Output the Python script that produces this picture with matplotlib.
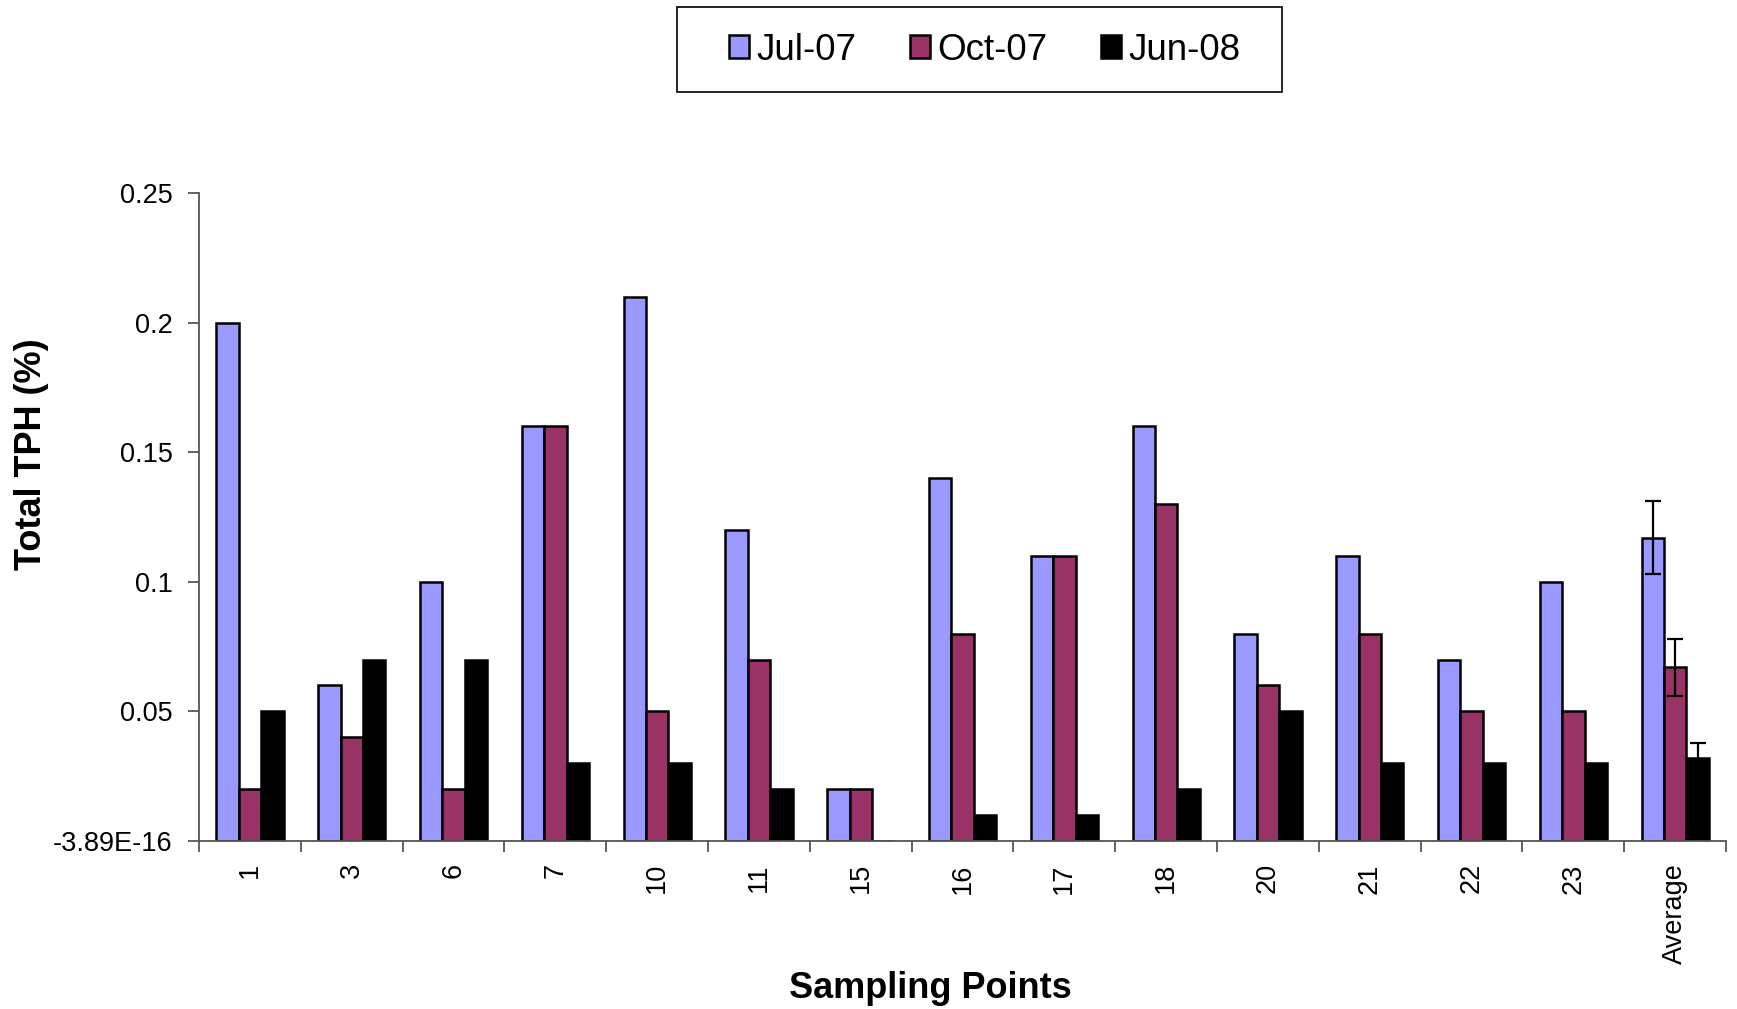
import matplotlib.pyplot as plt
import numpy as np
from matplotlib.patches import Rectangle

plt.rcParams['font.family'] = ['Liberation Sans', 'DejaVu Sans']

points = ['1', '3', '6', '7', '10', '11', '15', '16', '17', '18', '20', '21', '22', '23', 'Average']
jul07 = [0.20, 0.06, 0.10, 0.16, 0.21, 0.12, 0.02, 0.14, 0.11, 0.16, 0.08, 0.11, 0.07, 0.10, 0.117]
oct07 = [0.02, 0.04, 0.02, 0.16, 0.05, 0.07, 0.02, 0.08, 0.11, 0.13, 0.06, 0.08, 0.05, 0.05, 0.067]
jun08 = [0.05, 0.07, 0.07, 0.03, 0.03, 0.02, 0.00, 0.01, 0.01, 0.02, 0.05, 0.03, 0.03, 0.03, 0.032]
# error bars only on the Average group
avg_err = [0.014, 0.011, 0.006]

series = [('Jul-07', jul07, '#9999FF'), ('Oct-07', oct07, '#993366'), ('Jun-08', jun08, '#000000')]

fig = plt.figure(figsize=(17.37, 10.09), dpi=100)
ax = fig.add_axes([0.1146, 0.1665, 0.8791, 0.6422])

x = np.arange(len(points))
w = 0.22
handles = []
for i, (name, vals, col) in enumerate(series):
    xs = x + (i - 1) * w
    b = ax.bar(xs, vals, w, color=col, edgecolor='black', linewidth=1.8, label=name)
    handles.append(b)
    ax.errorbar(xs[-1], vals[-1], yerr=avg_err[i], color='black', elinewidth=1.6,
                capsize=5.5, capthick=1.6, fmt='none', zorder=5)

ax.set_xlim(-0.5, len(points) - 0.5)
ax.set_ylim(0, 0.25)
ax.set_yticks([0, 0.05, 0.1, 0.15, 0.2, 0.25])
ax.set_yticklabels(['-3.89E-16', '0.05', '0.1', '0.15', '0.2', '0.25'], fontsize=19.5)

ax.set_xticks(x)
ax.set_xticklabels(points, rotation=90, fontsize=19.5, va='top')
ax.set_xticks(np.arange(len(points) + 1) - 0.5, minor=True)
ax.tick_params(axis='x', which='major', length=0, pad=16)
ax.tick_params(axis='x', which='minor', length=8, width=1.3, color='#555555', direction='out')
ax.tick_params(axis='y', length=8, width=1.3, color='#555555', direction='out', pad=11)

for s in ['top', 'right']:
    ax.spines[s].set_visible(False)
for s in ['left', 'bottom']:
    ax.spines[s].set_color('#555555')
    ax.spines[s].set_linewidth(1.3)

fig.text(32 / 1737, 1 - 454 / 1009, 'Total TPH (%)', rotation=90, fontsize=26,
         fontweight='bold', ha='center', va='center')
fig.text(930 / 1737, 1 - 989 / 1009, 'Sampling Points', fontsize=26,
         fontweight='bold', ha='center', va='center')

leg = fig.legend(handles=handles, loc='center', bbox_to_anchor=(985 / 1737, 1 - 50 / 1009),
                 ncol=3, fontsize=26.5, frameon=False, handlelength=0.55, handleheight=0.55,
                 handletextpad=0.2, columnspacing=1.45)
fig.patches.append(Rectangle((677 / 1737, 1 - 92 / 1009), 605 / 1737, 85 / 1009,
                             transform=fig.transFigure, fill=False, edgecolor='black',
                             linewidth=1.2))

fig.savefig('out.png', dpi=100)
